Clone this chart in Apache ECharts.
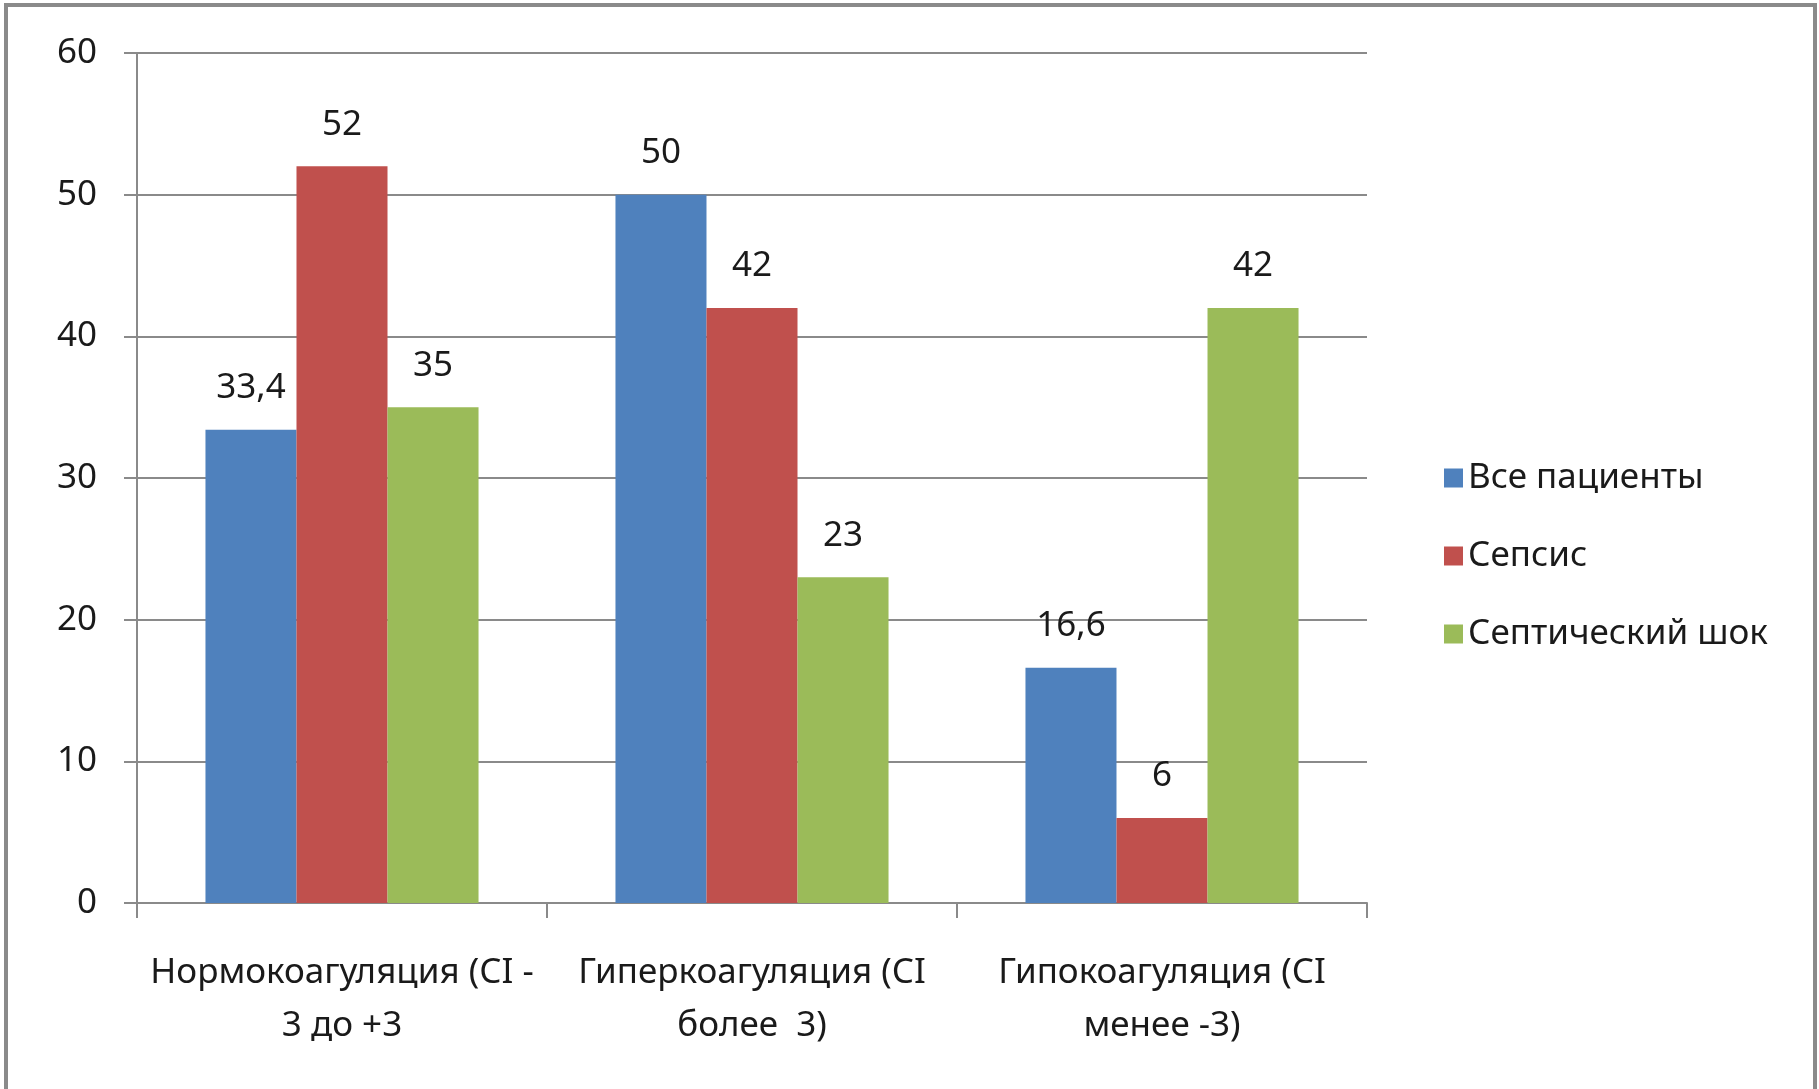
<!DOCTYPE html>
<html>
<head>
<meta charset="utf-8">
<script src="https://cdn.jsdelivr.net/npm/echarts@6/dist/echarts.min.js"></script>
<style>
html,body{margin:0;padding:0;background:#fff;}
#chart{width:1819px;height:1089px;}
</style>
</head>
<body>
<div id="chart"></div>
<script>
const categories = ['Нормокоагуляция (CI -\n3 до +3', 'Гиперкоагуляция (CI\nболее  3)', 'Гипокоагуляция (CI\nменее -3)'];
const seriesNames = ['Все пациенты', 'Сепсис', 'Септический шок'];
const allPatients = [33.4, 50, 16.6];
const sepsis = [52, 42, 6];
const septicShock = [35, 23, 42];
const yTicks = [0, 10, 20, 30, 40, 50, 60];

const colors = ['#4F81BD', '#C0504D', '#9BBB59'];
const FONT = '"Noto Sans", sans-serif';
const FS = 35;
const textColor = '#1a1a1a';
const lineColor = '#8a8a8a';

const chart = echarts.init(document.getElementById('chart'), null, {renderer: 'canvas'});

function mkSeries(name, data, color) {
  return {
    name: name,
    type: 'bar',
    data: data,
    barGap: '0%',
    barCategoryGap: '33.4%',
    itemStyle: {color: color},
    label: {
      show: true,
      position: 'top',
      distance: 24,
      fontFamily: FONT,
      fontSize: FS,
      color: textColor,
      formatter: p => String(p.value).replace('.', ',')
    },
    emphasis: {disabled: true}
  };
}

chart.setOption({
  animation: false,
  backgroundColor: '#ffffff',
  color: colors,
  textStyle: {fontFamily: FONT},
  grid: {left: 137, right: 452, top: 53, bottom: 186, containLabel: false},
  legend: {
    orient: 'vertical',
    left: 1439,
    top: 453,
    itemWidth: 19,
    itemHeight: 19,
    itemGap: 38,
    itemTextGap: 11,
    icon: 'rect',
    textStyle: {fontFamily: FONT, fontSize: FS, color: textColor, lineHeight: 40},
    data: seriesNames
  },
  xAxis: {
    type: 'category',
    data: categories,
    axisLine: {show: true, lineStyle: {color: lineColor, width: 2}},
    axisTick: {show: true, length: 15, lineStyle: {color: lineColor, width: 2}},
    axisLabel: {
      fontFamily: FONT, fontSize: FS, color: textColor,
      lineHeight: 53, margin: 44, interval: 0, align: 'center'
    },
    splitLine: {show: false}
  },
  yAxis: {
    type: 'value',
    min: yTicks[0],
    max: yTicks[yTicks.length - 1],
    interval: 10,
    axisLine: {show: true, lineStyle: {color: lineColor, width: 2}},
    axisTick: {show: true, length: 13, lineStyle: {color: lineColor, width: 2}},
    axisLabel: {fontFamily: FONT, fontSize: FS, color: textColor, margin: 40},
    splitLine: {show: true, lineStyle: {color: lineColor, width: 2}}
  },
  graphic: [{
    type: 'rect',
    silent: true,
    shape: {x: 6, y: 5, width: 1809, height: 1200},
    style: {fill: 'none', stroke: '#8a8a8a', lineWidth: 4}
  }],
  series: [
    mkSeries(seriesNames[0], allPatients, colors[0]),
    mkSeries(seriesNames[1], sepsis, colors[1]),
    mkSeries(seriesNames[2], septicShock, colors[2])
  ]
});
</script>
</body>
</html>
